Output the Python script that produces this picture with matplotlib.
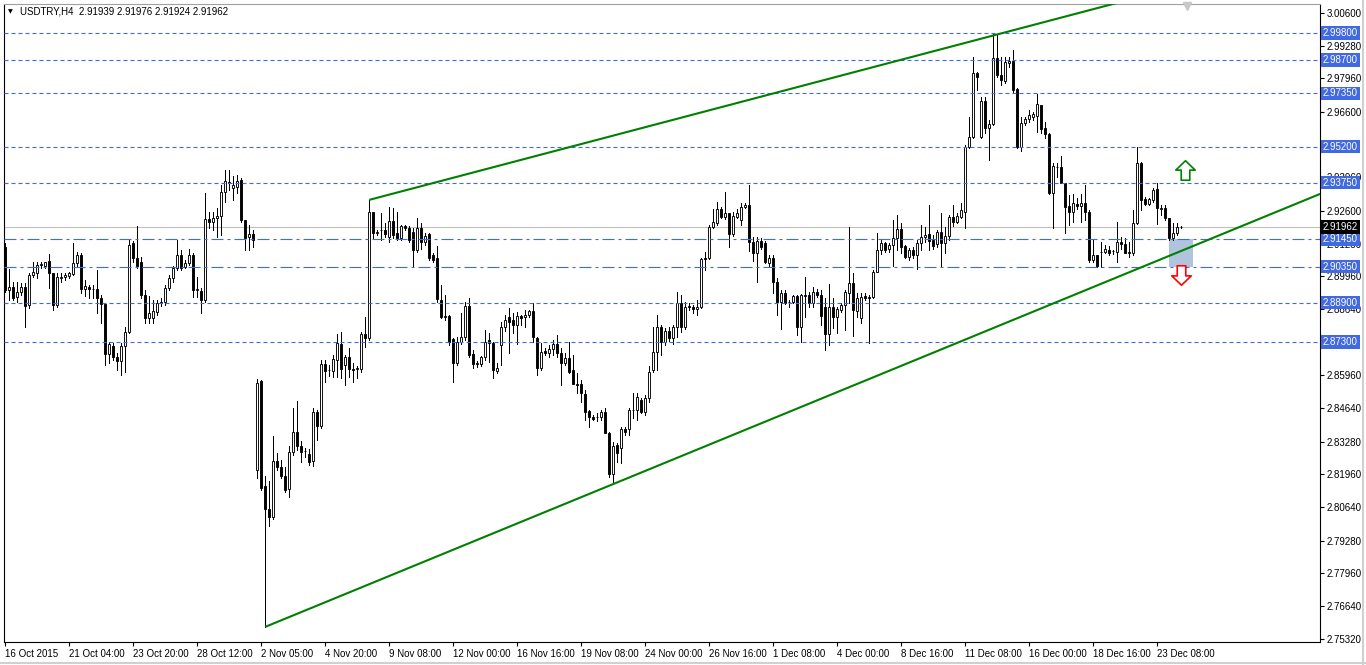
import numpy as np
import matplotlib.pyplot as plt
from matplotlib.patches import Rectangle
from matplotlib.path import Path

# USDTRY H4 candles (bar index 0 = 16 Oct 2015 00:00)
opens = [
    2.9115, 2.8941, 2.8954, 2.8913, 2.8933, 2.8954, 2.8881, 2.9002, 2.9010, 2.9043,
    2.9039, 2.9059, 2.9010, 2.8881, 2.8990, 2.8994, 2.8998, 2.9006, 2.9051, 2.9083,
    2.8946, 2.8954, 2.8946, 2.8946, 2.8909, 2.8885, 2.8683, 2.8715, 2.8671, 2.8655,
    2.8715, 2.8772, 2.9131, 2.9071, 2.9055, 2.8921, 2.8828, 2.8828, 2.8853, 2.8889,
    2.8893, 2.8950, 2.8990, 2.9030, 2.9083, 2.9034, 2.9051, 2.9083, 2.8941, 2.8937,
    2.8901, 2.9228, 2.9216, 2.9232, 2.9240, 2.9337, 2.9374, 2.9353, 2.9358, 2.9386,
    2.9224, 2.9156, 2.9168, 2.8214, 2.8574, 2.8150, 2.8057, 2.8024, 2.8251, 2.8226,
    2.8190, 2.8137, 2.8287, 2.8368, 2.8311, 2.8291, 2.8279, 2.8251, 2.8449, 2.8392,
    2.8643, 2.8618, 2.8614, 2.8659, 2.8723, 2.8638, 2.8671, 2.8622, 2.8622, 2.8622,
    2.8764, 2.8748, 2.9257, 2.9172, 2.9184, 2.9184, 2.9156, 2.9220, 2.9172, 2.9152,
    2.9200, 2.9192, 2.9176, 2.9103, 2.9192, 2.9135, 2.9168, 2.9083, 2.9071, 2.8901,
    2.8832, 2.8837, 2.8744, 2.8647, 2.8731, 2.8752, 2.8877, 2.8683, 2.8647, 2.8643,
    2.8671, 2.8739, 2.8727, 2.8614, 2.8719, 2.8792, 2.8832, 2.8820, 2.8800, 2.8837,
    2.8832, 2.8841, 2.8857, 2.8748, 2.8626, 2.8695, 2.8687, 2.8703, 2.8723, 2.8687,
    2.8647, 2.8667, 2.8618, 2.8562, 2.8562, 2.8521, 2.8453, 2.8428, 2.8428, 2.8428,
    2.8449, 2.8364, 2.8198, 2.8315, 2.8303, 2.8380, 2.8380, 2.8457, 2.8457, 2.8497,
    2.8449, 2.8505, 2.8618, 2.8691, 2.8792, 2.8731, 2.8776, 2.8748, 2.8792, 2.8889,
    2.8792, 2.8877, 2.8873, 2.8865, 2.8873, 2.9071, 2.9071, 2.9196, 2.9212, 2.9269,
    2.9236, 2.9253, 2.9168, 2.9236, 2.9224, 2.9277, 2.9285, 2.9135, 2.9091, 2.9139,
    2.9131, 2.9051, 2.9071, 2.8974, 2.8893, 2.8929, 2.8893, 2.8893, 2.8917, 2.8792,
    2.8921, 2.8921, 2.8889, 2.8933, 2.8921, 2.8873, 2.8764, 2.8873, 2.8832, 2.8861,
    2.8881, 2.8929, 2.8970, 2.8857, 2.8828, 2.8917, 2.8913, 2.8913, 2.9014, 2.9103,
    2.9131, 2.9107, 2.9123, 2.9152, 2.9188, 2.9119, 2.9075, 2.9103, 2.9083, 2.9131,
    2.9156, 2.9168, 2.9143, 2.9127, 2.9176, 2.9131, 2.9160, 2.9236, 2.9216, 2.9236,
    2.9257, 2.9519, 2.9560, 2.9818, 2.9560, 2.9705, 2.9596, 2.9612, 2.9879, 2.9810,
    2.9786, 2.9858, 2.9867, 2.9753, 2.9519, 2.9616, 2.9632, 2.9640, 2.9644, 2.9689,
    2.9596, 2.9572, 2.9333, 2.9438, 2.9438, 2.9374, 2.9281, 2.9257, 2.9289, 2.9281,
    2.9293, 2.9257, 2.9063, 2.9083, 2.9095, 2.9095, 2.9103, 2.9099, 2.9095, 2.9135,
    2.9127, 2.9091, 2.9091, 2.9212, 2.9455, 2.9309, 2.9289, 2.9305, 2.9349, 2.9269,
    2.9273, 2.9232, 2.9152, 2.9172, 2.91939,
]
highs = [
    2.9131, 2.9026, 2.8974, 2.8974, 2.8970, 2.8970, 2.9010, 2.9055, 2.9055, 2.9055,
    2.9055, 2.9087, 2.9010, 2.9010, 2.9010, 2.9010, 2.9014, 2.9131, 2.9095, 2.9091,
    2.8982, 2.8962, 2.8962, 2.9022, 2.8921, 2.8889, 2.8731, 2.8727, 2.8687, 2.8727,
    2.8792, 2.9147, 2.9139, 2.9200, 2.9075, 2.8941, 2.8917, 2.8901, 2.8901, 2.8909,
    2.8962, 2.9002, 2.9039, 2.9143, 2.9103, 2.9063, 2.9107, 2.9091, 2.8994, 2.8950,
    2.9333, 2.9257, 2.9257, 2.9273, 2.9366, 2.9426, 2.9426, 2.9402, 2.9406, 2.9394,
    2.9224, 2.9204, 2.9184, 2.8582, 2.8578, 2.8190, 2.8170, 2.8352, 2.8283, 2.8255,
    2.8226, 2.8311, 2.8465, 2.8493, 2.8331, 2.8303, 2.8299, 2.8465, 2.8457, 2.8659,
    2.8659, 2.8638, 2.8679, 2.8764, 2.8772, 2.8679, 2.8707, 2.8647, 2.8634, 2.8772,
    2.8832, 2.9305, 2.9257, 2.9184, 2.9253, 2.9212, 2.9277, 2.9273, 2.9257, 2.9204,
    2.9204, 2.9200, 2.9192, 2.9232, 2.9212, 2.9172, 2.9172, 2.9091, 2.9119, 2.8962,
    2.8921, 2.8841, 2.8748, 2.8752, 2.8849, 2.8893, 2.8909, 2.8699, 2.8655, 2.8675,
    2.8780, 2.8768, 2.8731, 2.8647, 2.8812, 2.8841, 2.8869, 2.8849, 2.8853, 2.8841,
    2.8861, 2.8861, 2.8889, 2.8752, 2.8727, 2.8707, 2.8719, 2.8739, 2.8760, 2.8707,
    2.8687, 2.8731, 2.8679, 2.8606, 2.8578, 2.8537, 2.8457, 2.8436, 2.8444, 2.8457,
    2.8465, 2.8368, 2.8327, 2.8323, 2.8388, 2.8388, 2.8465, 2.8525, 2.8525, 2.8505,
    2.8517, 2.8634, 2.8792, 2.8841, 2.8800, 2.8788, 2.8792, 2.8800, 2.8933, 2.8921,
    2.8893, 2.8889, 2.8881, 2.8901, 2.9071, 2.9095, 2.9204, 2.9269, 2.9297, 2.9277,
    2.9337, 2.9253, 2.9257, 2.9269, 2.9293, 2.9293, 2.9366, 2.9156, 2.9156, 2.9152,
    2.9139, 2.9083, 2.9083, 2.8990, 2.8941, 2.8941, 2.8901, 2.8921, 2.8921, 2.8925,
    2.8994, 2.8933, 2.8954, 2.8946, 2.8941, 2.8909, 2.8966, 2.8909, 2.8873, 2.8889,
    2.8941, 2.9196, 2.9010, 2.8929, 2.8929, 2.8929, 2.8921, 2.9022, 2.9172, 2.9147,
    2.9135, 2.9131, 2.9224, 2.9244, 2.9212, 2.9123, 2.9111, 2.9115, 2.9143, 2.9204,
    2.9196, 2.9285, 2.9164, 2.9184, 2.9253, 2.9196, 2.9244, 2.9285, 2.9253, 2.9293,
    2.9527, 2.9640, 2.9883, 2.9822, 2.9721, 2.9721, 2.9628, 2.9980, 2.9972, 2.9883,
    2.9883, 2.9883, 2.9911, 2.9757, 2.9640, 2.9640, 2.9669, 2.9661, 2.9733, 2.9690,
    2.9620, 2.9576, 2.9455, 2.9455, 2.9483, 2.9375, 2.9325, 2.9329, 2.9313, 2.9329,
    2.9366, 2.9265, 2.9143, 2.9084, 2.9135, 2.9123, 2.9119, 2.9103, 2.9216, 2.9156,
    2.9152, 2.9135, 2.9265, 2.9519, 2.9459, 2.9317, 2.9313, 2.9353, 2.9374, 2.9285,
    2.9285, 2.9233, 2.9212, 2.9212, 2.91976,
]
lows = [
    2.8933, 2.8901, 2.8901, 2.8893, 2.8921, 2.8792, 2.8869, 2.8994, 2.8990, 2.9030,
    2.9030, 2.8950, 2.8861, 2.8873, 2.8974, 2.8982, 2.8990, 2.9002, 2.9034, 2.8929,
    2.8917, 2.8909, 2.8909, 2.8849, 2.8808, 2.8638, 2.8647, 2.8659, 2.8618, 2.8598,
    2.8610, 2.8768, 2.9055, 2.9030, 2.8909, 2.8808, 2.8808, 2.8808, 2.8841, 2.8877,
    2.8881, 2.8941, 2.8974, 2.9022, 2.9022, 2.9030, 2.9043, 2.8913, 2.8913, 2.8849,
    2.8893, 2.9192, 2.9184, 2.9156, 2.9164, 2.9297, 2.9345, 2.9305, 2.9333, 2.9216,
    2.9103, 2.9103, 2.9115, 2.8182, 2.8133, 2.7580, 2.7988, 2.8016, 2.8214, 2.8182,
    2.8125, 2.8105, 2.8275, 2.8295, 2.8247, 2.8267, 2.8234, 2.8230, 2.8335, 2.8384,
    2.8570, 2.8594, 2.8590, 2.8590, 2.8586, 2.8558, 2.8590, 2.8570, 2.8586, 2.8610,
    2.8711, 2.8739, 2.9152, 2.9164, 2.9143, 2.9156, 2.9135, 2.9152, 2.9143, 2.9143,
    2.9184, 2.9135, 2.9034, 2.9095, 2.9107, 2.9123, 2.9063, 2.9055, 2.8893, 2.8828,
    2.8820, 2.8719, 2.8570, 2.8638, 2.8723, 2.8739, 2.8671, 2.8626, 2.8630, 2.8634,
    2.8659, 2.8651, 2.8586, 2.8606, 2.8638, 2.8776, 2.8687, 2.8768, 2.8723, 2.8800,
    2.8792, 2.8832, 2.8731, 2.8598, 2.8618, 2.8679, 2.8671, 2.8679, 2.8671, 2.8558,
    2.8638, 2.8606, 2.8562, 2.8525, 2.8489, 2.8416, 2.8388, 2.8416, 2.8412, 2.8416,
    2.8364, 2.8186, 2.8162, 2.8247, 2.8243, 2.8356, 2.8356, 2.8424, 2.8416, 2.8444,
    2.8436, 2.8489, 2.8610, 2.8618, 2.8679, 2.8719, 2.8735, 2.8723, 2.8752, 2.8772,
    2.8784, 2.8861, 2.8849, 2.8841, 2.8869, 2.9022, 2.9067, 2.9192, 2.9204, 2.9232,
    2.9228, 2.9115, 2.9160, 2.9232, 2.9204, 2.9273, 2.9099, 2.9059, 2.8974, 2.9107,
    2.9051, 2.9034, 2.8929, 2.8841, 2.8784, 2.8885, 2.8873, 2.8889, 2.8760, 2.8731,
    2.8832, 2.8873, 2.8873, 2.8913, 2.8800, 2.8699, 2.8719, 2.8788, 2.8768, 2.8853,
    2.8780, 2.8889, 2.8756, 2.8832, 2.8808, 2.8901, 2.8727, 2.8909, 2.9012, 2.9087,
    2.9095, 2.9095, 2.9039, 2.9103, 2.9091, 2.9071, 2.9063, 2.9071, 2.9026, 2.9103,
    2.9135, 2.9103, 2.9107, 2.9115, 2.9039, 2.9091, 2.9143, 2.9200, 2.9212, 2.9232,
    2.9192, 2.9515, 2.9556, 2.9749, 2.9556, 2.9576, 2.9467, 2.9608, 2.9802, 2.9770,
    2.9778, 2.9842, 2.9741, 2.9515, 2.9503, 2.9608, 2.9620, 2.9628, 2.9580, 2.9576,
    2.9556, 2.9329, 2.9192, 2.9398, 2.9374, 2.9172, 2.9204, 2.9216, 2.9269, 2.9216,
    2.9224, 2.9055, 2.9055, 2.9034, 2.9034, 2.9091, 2.9083, 2.9087, 2.9055, 2.9107,
    2.9091, 2.9075, 2.9083, 2.9208, 2.9265, 2.9285, 2.9285, 2.9297, 2.9208, 2.9244,
    2.9224, 2.9143, 2.9143, 2.9164, 2.91924,
]
closes = [
    2.8941, 2.8954, 2.8909, 2.8933, 2.8954, 2.8877, 2.9002, 2.9014, 2.9043, 2.9047,
    2.9055, 2.9010, 2.8881, 2.8994, 2.8994, 2.9002, 2.9010, 2.9051, 2.9083, 2.8946,
    2.8958, 2.8946, 2.8944, 2.8909, 2.8885, 2.8683, 2.8723, 2.8671, 2.8655, 2.8715,
    2.8772, 2.9123, 2.9071, 2.9039, 2.8921, 2.8828, 2.8849, 2.8857, 2.8889, 2.8893,
    2.8950, 2.8990, 2.9030, 2.9083, 2.9030, 2.9051, 2.9083, 2.8941, 2.8946, 2.8901,
    2.9228, 2.9216, 2.9232, 2.9240, 2.9337, 2.9382, 2.9378, 2.9366, 2.9382, 2.9224,
    2.9152, 2.9168, 2.9143, 2.8566, 2.8142, 2.8057, 2.8024, 2.8251, 2.8226, 2.8190,
    2.8133, 2.8287, 2.8368, 2.8311, 2.8287, 2.8289, 2.8247, 2.8449, 2.8392, 2.8643,
    2.8614, 2.8616, 2.8663, 2.8727, 2.8622, 2.8671, 2.8622, 2.8618, 2.8626, 2.8764,
    2.8748, 2.9257, 2.9172, 2.9176, 2.9182, 2.9168, 2.9220, 2.9164, 2.9152, 2.9200,
    2.9192, 2.9143, 2.9103, 2.9192, 2.9135, 2.9160, 2.9071, 2.9063, 2.8905, 2.8832,
    2.8837, 2.8731, 2.8647, 2.8731, 2.8752, 2.8877, 2.8679, 2.8643, 2.8642, 2.8671,
    2.8731, 2.8727, 2.8618, 2.8626, 2.8792, 2.8820, 2.8812, 2.8800, 2.8837, 2.8828,
    2.8841, 2.8857, 2.8752, 2.8626, 2.8691, 2.8687, 2.8703, 2.8723, 2.8687, 2.8647,
    2.8667, 2.8610, 2.8563, 2.8558, 2.8525, 2.8449, 2.8428, 2.8420, 2.8427, 2.8449,
    2.8365, 2.8198, 2.8311, 2.8283, 2.8380, 2.8368, 2.8457, 2.8456, 2.8509, 2.8449,
    2.8505, 2.8610, 2.8691, 2.8792, 2.8731, 2.8776, 2.8748, 2.8792, 2.8889, 2.8792,
    2.8873, 2.8873, 2.8865, 2.8873, 2.9067, 2.9067, 2.9196, 2.9216, 2.9269, 2.9236,
    2.9253, 2.9168, 2.9240, 2.9253, 2.9277, 2.9285, 2.9135, 2.9091, 2.9139, 2.9115,
    2.9052, 2.9071, 2.8974, 2.8893, 2.8929, 2.8889, 2.8892, 2.8917, 2.8792, 2.8921,
    2.8917, 2.8889, 2.8933, 2.8921, 2.8837, 2.8764, 2.8873, 2.8832, 2.8865, 2.8881,
    2.8933, 2.8970, 2.8861, 2.8909, 2.8913, 2.8909, 2.8909, 2.9014, 2.9103, 2.9131,
    2.9103, 2.9123, 2.9152, 2.9188, 2.9115, 2.9075, 2.9103, 2.9083, 2.9131, 2.9156,
    2.9164, 2.9139, 2.9119, 2.9176, 2.9131, 2.9160, 2.9236, 2.9216, 2.9240, 2.9265,
    2.9519, 2.9560, 2.9818, 2.9802, 2.9705, 2.9596, 2.9612, 2.9879, 2.9810, 2.9790,
    2.9863, 2.9867, 2.9749, 2.9519, 2.9616, 2.9632, 2.9648, 2.9652, 2.9693, 2.9592,
    2.9572, 2.9333, 2.9442, 2.9437, 2.9375, 2.9277, 2.9257, 2.9293, 2.9281, 2.9293,
    2.9257, 2.9063, 2.9083, 2.9039, 2.9094, 2.9107, 2.9091, 2.9098, 2.9135, 2.9127,
    2.9092, 2.9095, 2.9212, 2.9455, 2.9305, 2.9289, 2.9309, 2.9345, 2.9273, 2.9273,
    2.9232, 2.9152, 2.9172, 2.9194, 2.91962,
]

# time axis labels every 16 bars
date_ticks = [0, 16, 32, 48, 64, 80, 96, 112, 128, 144, 160, 176, 192, 208, 224, 240, 256, 272, 288]
date_labels = ["16 Oct 2015", "21 Oct 04:00", "23 Oct 20:00", "28 Oct 12:00", "2 Nov 05:00",
               "4 Nov 20:00", "9 Nov 08:00", "12 Nov 00:00", "16 Nov 16:00", "19 Nov 08:00",
               "24 Nov 00:00", "26 Nov 16:00", "1 Dec 08:00", "4 Dec 00:00", "8 Dec 16:00",
               "11 Dec 08:00", "16 Dec 00:00", "18 Dec 16:00", "23 Dec 08:00"]

price_ticks = [3.00600, 2.99280, 2.97960, 2.96600, 2.95280, 2.93960, 2.92600, 2.91280, 2.89960, 2.88640,
               2.87320, 2.85960, 2.84640, 2.83280, 2.81960, 2.80640, 2.79280, 2.77960, 2.76640, 2.75320]
hidden_ticks = [2.95280, 2.87320]  # fully covered by level labels

# horizontal levels, trend lines and objects
levels_dashed = [2.99800, 2.98700, 2.97350, 2.95200, 2.93750, 2.88900, 2.87300]
levels_dashdot = [2.91450, 2.90350]
bid = 2.91962
upper_trend = [(91, 2.9305), (247, 2.9969)]
lower_trend = [(65, 2.7580), (151.7, 2.8155)]
zone_bars = (290.9, 296.9)
zone_prices = (2.9035, 2.9145)
arrow_up_at = (294.9, 2.9426)
arrow_down_at = (293.9, 2.9002)

BLUE = '#4169e1'
GREEN = '#008000'
FS = 7

plt.rcParams['font.family'] = ['Liberation Sans', 'DejaVu Sans']

fig = plt.figure(figsize=(13.66, 6.65), dpi=100)
W, H = 1366, 665
ax = fig.add_axes([4 / W, 1 - 642 / H, 1316 / W, 638 / H])
ax.set_xlim(-0.325, 328.7)
ax.set_ylim(2.75188, 3.00963)

o = np.array(opens)
h = np.array(highs)
l = np.array(lows)
c = np.array(closes)
x = np.arange(len(c))
bull = c >= o

# candles
ax.vlines(x, l, h, color='black', lw=0.68, zorder=3, antialiased=False)
body_low = np.minimum(o, c)
body_h = np.maximum(np.abs(c - o), 0.00012)
ax.bar(x, body_h, bottom=body_low, width=0.6,
       color=np.where(bull, 'white', 'black'), edgecolor='black', linewidth=0.65, zorder=4)

# bid line
ax.axhline(bid, color='#c0c0c0', lw=0.8, zorder=1.5)

# level lines
for lv in levels_dashed:
    ax.axhline(lv, color=BLUE, lw=0.8, linestyle=(0, (3.6, 2.7)), zorder=5)
for lv in levels_dashdot:
    ax.axhline(lv, color=BLUE, lw=0.8, linestyle=(0, (10.8, 3.6, 2.7, 3.6)), zorder=5)

# trend rays
def ray(p1, p2, x_end=335):
    slope = (p2[1] - p1[1]) / (p2[0] - p1[0])
    return [p1[0], x_end], [p1[1], p1[1] + slope * (x_end - p1[0])]

for tl in (upper_trend, lower_trend):
    xs, ys = ray(*tl)
    ax.plot(xs, ys, color=GREEN, lw=1.5, zorder=6, solid_capstyle='butt')

# zone rectangle
ax.add_patch(Rectangle((zone_bars[0], zone_prices[0]), zone_bars[1] - zone_bars[0],
                       zone_prices[1] - zone_prices[0], facecolor='#b0c4de', edgecolor='none', zorder=2))

# arrows
up_verts = [(-0.22, -0.5), (0.22, -0.5), (0.22, 0.02), (0.5, 0.02), (0, 0.5), (-0.5, 0.02), (-0.22, 0.02), (-0.22, -0.5)]
up_path = Path(up_verts, closed=True)
down_path = Path([(vx, -vy) for vx, vy in up_verts], closed=True)
ax.plot(*arrow_up_at, marker=up_path, ms=14, mfc='white', mec=GREEN, mew=1.2, ls='none', zorder=7)
ax.plot(*arrow_down_at, marker=down_path, ms=14, mfc='white', mec='red', mew=1.2, ls='none', zorder=7)

# chart-shift marker at top
ax.plot(295.4, 3.0088, marker='v', ms=6, color='#c8c8c8', ls='none', clip_on=False, zorder=7)

# axes styling
for side in ('left', 'bottom', 'right'):
    ax.spines[side].set_color('black')
    ax.spines[side].set_linewidth(0.8)
ax.spines['top'].set_color('#a0a0a0')
ax.spines['top'].set_linewidth(0.8)

ax.yaxis.tick_right()
ax.set_yticks(price_ticks)
ax.set_yticklabels(["" if p in hidden_ticks else f"{p:.5f}" for p in price_ticks])
ax.tick_params(axis='y', direction='out', length=3, width=0.8, pad=2, labelsize=FS)
ax.set_xticks(date_ticks)
ax.set_xticklabels(date_labels)
ax.tick_params(axis='x', direction='out', length=3, width=0.8, pad=2, labelsize=FS)
for lab in ax.get_xticklabels():
    lab.set_horizontalalignment('left')

# price labels on the right axis
for lv in levels_dashed + levels_dashdot:
    ax.annotate(f"{lv:.5f}", xy=(1, lv), xycoords=('axes fraction', 'data'),
                xytext=(3, 0), textcoords='offset pixels', ha='left', va='center',
                fontsize=FS, color='white', annotation_clip=False, zorder=10,
                bbox=dict(boxstyle='square,pad=0.18', fc=BLUE, ec='none'))
ax.annotate(f"{bid:.5f}", xy=(1, bid), xycoords=('axes fraction', 'data'),
            xytext=(3, 0), textcoords='offset pixels', ha='left', va='center',
            fontsize=FS, color='white', annotation_clip=False, zorder=10,
            bbox=dict(boxstyle='square,pad=0.18', fc='black', ec='none'))

# header
ax.text(4 / 1316, 1 - 8 / 638, "\u25bc", transform=ax.transAxes, fontsize=4.5, va='center', ha='left',
        family='DejaVu Sans')
ax.text(16 / 1316, 1 - 8 / 638, "USDTRY,H4  2.91939 2.91976 2.91924 2.91962",
        transform=ax.transAxes, fontsize=FS, va='center', ha='left')

# window frame
fig.add_artist(plt.Line2D([1363 / W, 1363 / W], [0, 1], color='#d0d0d0', lw=1.5))
fig.add_artist(plt.Line2D([0, 1], [2 / H, 2 / H], color='#d0d0d0', lw=1.5))

fig.savefig('out.png', dpi=100)
